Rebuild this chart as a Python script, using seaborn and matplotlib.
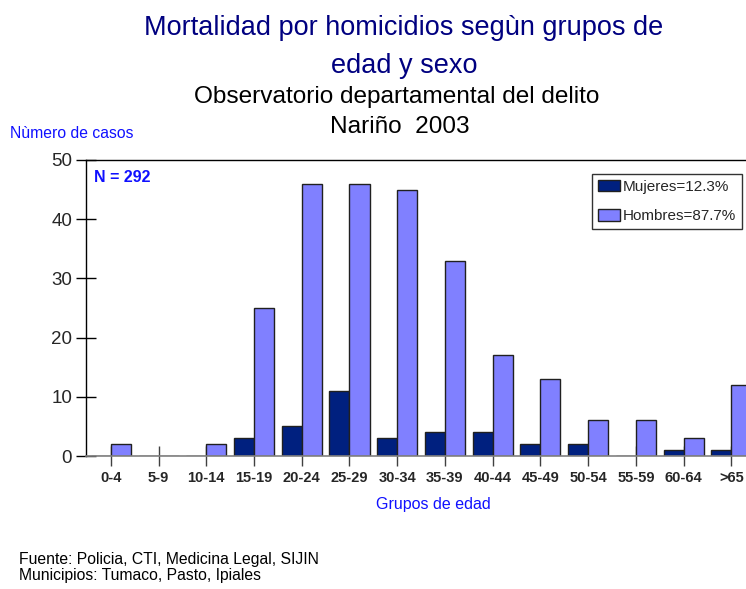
import matplotlib
matplotlib.use("Agg")
import matplotlib.pyplot as plt
import pandas as pd
import seaborn as sns

# data
grupos = ["0-4", "5-9", "10-14", "15-19", "20-24", "25-29", "30-34",
          "35-39", "40-44", "45-49", "50-54", "55-59", "60-64", ">65"]
mujeres = [0, 0, 0, 3, 5, 11, 3, 4, 4, 2, 2, 0, 1, 1]
hombres = [2, 0, 2, 25, 46, 46, 45, 33, 17, 13, 6, 6, 3, 12]
series = ["Mujeres=12.3%", "Hombres=87.7%"]
colores = ["#00207F", "#8080FF"]
y_ticks = [0, 10, 20, 30, 40, 50]

FONT = ["Liberation Sans", "DejaVu Sans"]
H = 589.0


def fy(px):
    """Pixel row (from top) to figure fraction."""
    return 1 - px / H


sns.set_style("white")
plt.rcParams["font.family"] = FONT

df = pd.DataFrame({
    "grupo": grupos * 2,
    "sexo": [series[0]] * len(grupos) + [series[1]] * len(grupos),
    "casos": mujeres + hombres,
})

fig = plt.figure(figsize=(7.46, 5.89), dpi=100)
ax = fig.add_axes([0.1153, 0.2258, 0.897, 0.5026])

sns.barplot(data=df, x="grupo", y="casos", hue="sexo", order=grupos,
            hue_order=series, palette=colores, width=0.84,
            edgecolor="#202020", linewidth=1.0, saturation=1, ax=ax)

ax.set_xlim(-0.52, 13.5)
ax.set_ylim(0, 50)
ax.set_yticks(y_ticks)
ax.tick_params(axis="y", left=True, direction="inout", length=14, width=1,
               labelsize=13.5, color="black", pad=3)
ax.tick_params(axis="x", bottom=True, direction="inout", length=14, width=1,
               labelsize=10.5, color="#404040", pad=4)
for lab in ax.get_xticklabels():
    lab.set_fontweight("bold")

for side in ["left", "top", "right"]:
    ax.spines[side].set_color("black")
    ax.spines[side].set_linewidth(1)
ax.spines["bottom"].set_color("#808080")
ax.spines["bottom"].set_linewidth(1.2)

ax.set_xlabel("Grupos de edad", color="#1010FF", fontsize=11.5)
ax.xaxis.set_label_coords(0.519, -0.138)
ax.set_ylabel("")

leg = ax.legend(loc="upper left", bbox_to_anchor=(0.756, 0.953),
                frameon=True, fancybox=False, fontsize=11,
                handlelength=1.45, handleheight=0.75, handletextpad=0.15,
                borderpad=0.4, labelspacing=1.0, borderaxespad=0)
leg.get_frame().set_edgecolor("black")
leg.get_frame().set_linewidth(1)

ax.text(0.012, 0.965, "N = 292", transform=ax.transAxes, color="#1010FF",
        fontsize=11.5, fontweight="bold", va="top", ha="left")

# titles and notes placed by pixel row of their baseline
fig.text(404 / 746, fy(35), "Mortalidad por homicidios segùn grupos de",
         color="#000080", fontsize=19.5, ha="center", va="baseline")
fig.text(404 / 746, fy(73), "edad y sexo",
         color="#000080", fontsize=19.5, ha="center", va="baseline")
fig.text(397 / 746, fy(103), "Observatorio departamental del delito",
         color="black", fontsize=17.6, ha="center", va="baseline")
fig.text(400 / 746, fy(133), "Nariño  2003",
         color="black", fontsize=17.6, ha="center", va="baseline")
fig.text(10 / 746, fy(138), "Nùmero de casos", color="#1010FF",
         fontsize=11.3, ha="left", va="baseline")

fig.text(19 / 746, fy(564), "Fuente: Policia, CTI, Medicina Legal, SIJIN",
         color="black", fontsize=11.3, ha="left", va="baseline")
fig.text(19 / 746, fy(580), "Municipios: Tumaco, Pasto, Ipiales",
         color="black", fontsize=11.3, ha="left", va="baseline")

fig.savefig("out.png", dpi=100)
plt.close(fig)
